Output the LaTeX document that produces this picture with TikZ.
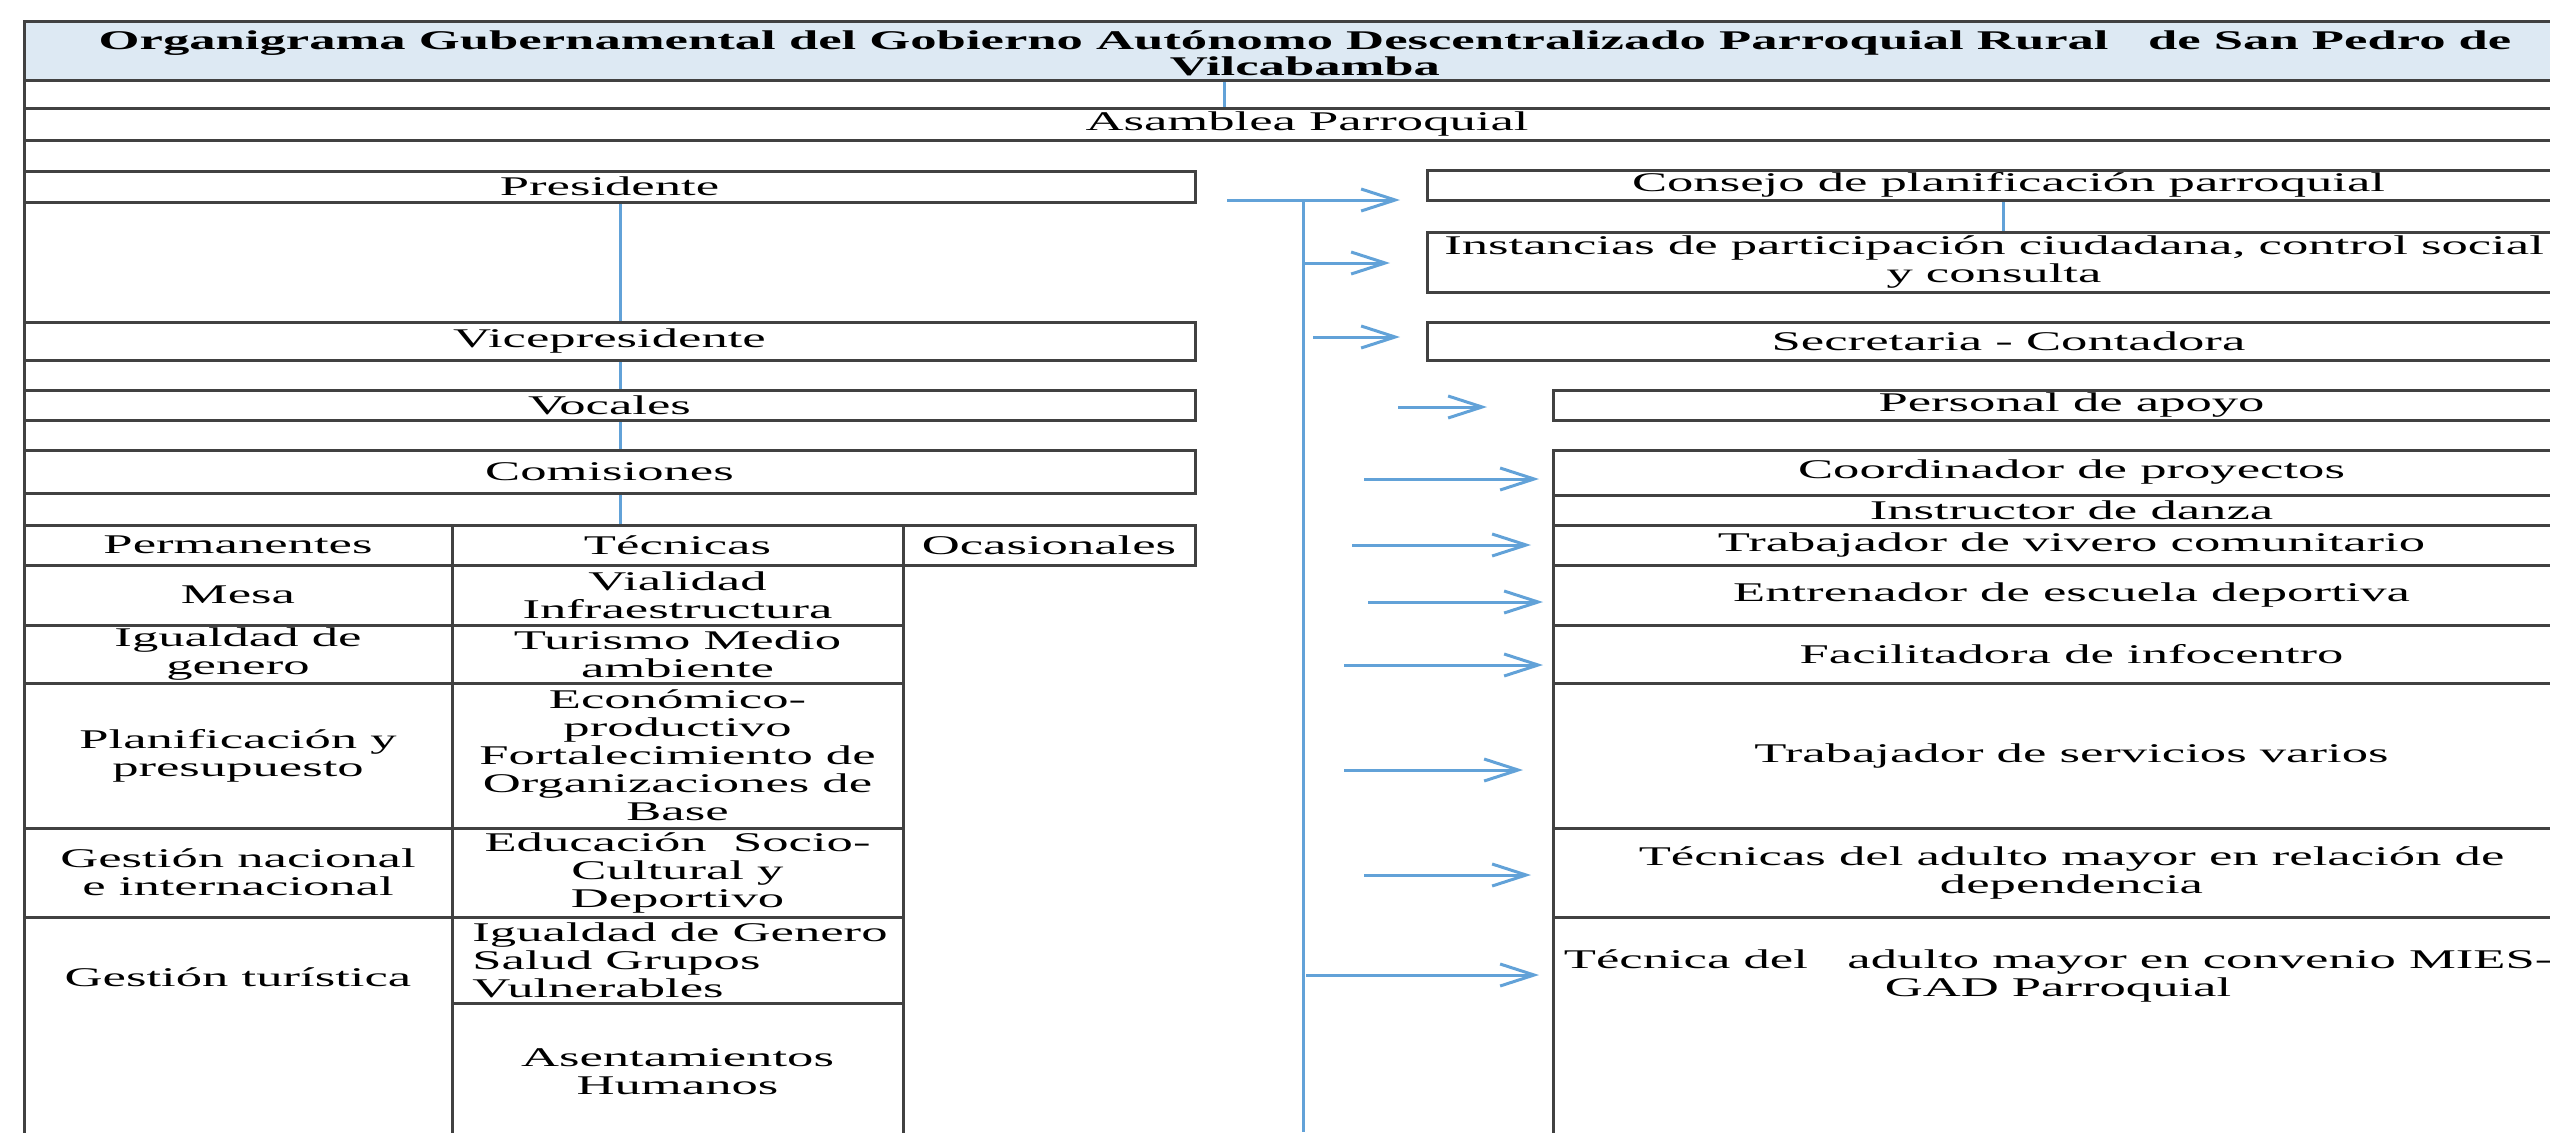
\documentclass[tikz,border=0pt]{standalone}
\usepackage{fontspec}
\setmainfont{Liberation Serif}
\usetikzlibrary{arrows.meta}

\definecolor{azulenlace}{RGB}{98,162,216}
\definecolor{azultitulo}{RGB}{221,233,243}
\definecolor{gristrazo}{RGB}{65,65,65}

\pgfdeclarelayer{fondo}
\pgfsetlayers{fondo,main}

\tikzset{
  caja/.style={draw=gristrazo, line width=3pt, fill=white, inner sep=0pt, outer sep=0pt, anchor=north west},
  texto/.style={font=\fontsize{27}{28}\selectfont, xscale=1.95, align=center, inner sep=0pt},
  negrita/.style={texto, font=\fontsize{27}{26}\selectfont\bfseries},
  enlace/.style={draw=azulenlace, line width=3pt},
  flecha/.style={enlace, -{Straight Barb[length=34pt, width=22pt]}}
}

% celda: nombre, esquina superior izquierda, esquina inferior derecha
\newcommand{\celda}[6][]{%
  \node[caja, minimum width={(#5-#3)*1pt}, minimum height={(#6-#4)*1pt}, #1] (#2) at (#3,#4) {};}

\begin{document}
\begin{tikzpicture}[x=1pt, y=-1pt]
\useasboundingbox (0,0) rectangle (2550,1132);
\clip (0,0) rectangle (2550,1132);

% Borde izquierdo
\draw[draw=gristrazo, line width=3pt] (24,22) -- (24,1132);

% Encabezado
\celda[fill=azultitulo]{tit}{24}{22}{2590}{80}
\node[negrita] (tit-t) at (1305,53) {Organigrama Gubernamental del Gobierno Autónomo Descentralizado Parroquial Rural\ \ \ de San Pedro de\\Vilcabamba};
\celda{asam}{24}{108}{2590}{140}
\node[texto] (asam-t) at (asam.center) {Asamblea Parroquial};

% Autoridades
\celda{pres}{24}{171}{1195}{202}
\celda{vice}{24}{322}{1195}{360}
\celda{voc}{24}{390}{1195}{420}
\celda{com}{24}{450}{1195}{493}
\node[texto] (pres-t) at (pres.center) {Presidente};
\node[texto] (vice-t) at (vice.center) {Vicepresidente};
\node[texto] (voc-t) at (voc.center) {Vocales};
\node[texto] (com-t) at (com.center) {Comisiones};

% Comisiones
\celda{perm}{24}{525}{452}{565}
\celda{tec}{452}{525}{903}{565}
\celda{ocas}{903}{525}{1195}{565}
\node[texto] (perm-t) at (perm.center) {Permanentes};
\node[texto] (tec-t) at (tec.center) {Técnicas};
\node[texto] (ocas-t) at (ocas.center) {Ocasionales};

\celda{mesa}{24}{565}{452}{625}
\celda{igual}{24}{625}{452}{683}
\celda{plan}{24}{683}{452}{828}
\celda{gnac}{24}{828}{452}{917}
\celda{gtur}{24}{917}{452}{1140}
\node[texto] (mesa-t) at (mesa.center) {Mesa};
\node[texto] (igual-t) at (igual.center) {Igualdad de\\genero};
\node[texto] (plan-t) at (plan.center) {Planificación y\\presupuesto};
\node[texto] (gnac-t) at (gnac.center) {Gestión nacional\\e internacional};
\node[texto] (gtur-t) at (238,977) {Gestión turística};

\celda{vial}{452}{565}{903}{625}
\celda{tur}{452}{625}{903}{683}
\celda{econ}{452}{683}{903}{828}
\celda{educ}{452}{828}{903}{917}
\celda{igen}{452}{917}{903}{1003}
\celda{asen}{452}{1003}{903}{1140}
\node[texto] (vial-t) at (vial.center) {Vialidad\\Infraestructura};
\node[texto] (tur-t) at (tur.center) {Turismo Medio\\ambiente};
\node[texto] (econ-t) at (econ.center) {Económico-\\productivo\\Fortalecimiento de\\Organizaciones de\\Base};
\node[texto] (educ-t) at (educ.center) {Educación\ \ Socio-\\Cultural y\\Deportivo};
\node[texto, align=left, anchor=west] (igen-t) at ([xshift=20pt]igen.west) {Igualdad de Genero\\Salud Grupos\\Vulnerables};
\node[texto] (asen-t) at (asen.center) {Asentamientos\\Humanos};

% Lado derecho
\celda{conse}{1427}{170}{2590}{200}
\celda{inst}{1427}{232}{2590}{292}
\celda{secr}{1427}{322}{2590}{360}
\celda{pers}{1553}{390}{2590}{420}
\node[texto] (conse-t) at (conse.center) {Consejo de planificación parroquial};
\node[texto] (inst-t) at (1994,262) {Instancias de participación ciudadana, control social\\y consulta};
\node[texto] (secr-t) at (secr.center) {Secretaria - Contadora};
\node[texto] (pers-t) at (pers.center) {Personal de apoyo};

\celda{coord}{1553}{450}{2590}{495}
\celda{instr}{1553}{495}{2590}{525}
\celda{viv}{1553}{525}{2590}{565}
\celda{entr}{1553}{565}{2590}{625}
\celda{faci}{1553}{625}{2590}{683}
\celda{serv}{1553}{683}{2590}{828}
\celda{tadm}{1553}{828}{2590}{917}
\celda{tcon}{1553}{917}{2590}{1140}
\node[texto] (coord-t) at (coord.center) {Coordinador de proyectos};
\node[texto] (instr-t) at (instr.center) {Instructor de danza};
\node[texto] (viv-t) at (viv.center) {Trabajador de vivero comunitario};
\node[texto] (entr-t) at (entr.center) {Entrenador de escuela deportiva};
\node[texto] (faci-t) at (faci.center) {Facilitadora de infocentro};
\node[texto] (serv-t) at (serv.center) {Trabajador de servicios varios};
\node[texto] (tadm-t) at (tadm.center) {Técnicas del adulto mayor en relación de\\dependencia};
\node[texto] (tcon-t) at (2058,976) {Técnica del\ \ \ adulto mayor en convenio MIES-\\GAD Parroquial};

% Conectores
\coordinate (x1) at (1224,0);
\coordinate (x2) at (620,0);
\coordinate (x3) at (2003,0);
\coordinate (eje) at (1303,200);
\coordinate (pie) at (1303,1132);

\begin{pgfonlayer}{fondo}
\draw[enlace] (tit.south -| x1) -- (asam.north -| x1);
\draw[enlace] (pres.south -| x2) -- (tec.north -| x2);
\draw[enlace] (conse.south -| x3) -- (inst.north -| x3);
\draw[enlace] (eje) -- (pie);
\foreach \y/\xs/\g/\dest in {200/1227/27pt/conse, 263/1303/37pt/inst, 337/1313/27pt/secr,
    407/1398/66pt/pers, 479/1364/14pt/coord, 545/1352/22pt/viv, 602/1368/10pt/entr,
    665/1344/10pt/faci, 770/1344/30pt/serv, 875/1364/22pt/tadm, 975/1306/14pt/tcon}{
  \coordinate (nivel) at (0,\y);
  \draw[flecha, shorten >=\g] (\xs,\y) -- (\dest.west |- nivel);
}
\end{pgfonlayer}

\end{tikzpicture}
\end{document}
